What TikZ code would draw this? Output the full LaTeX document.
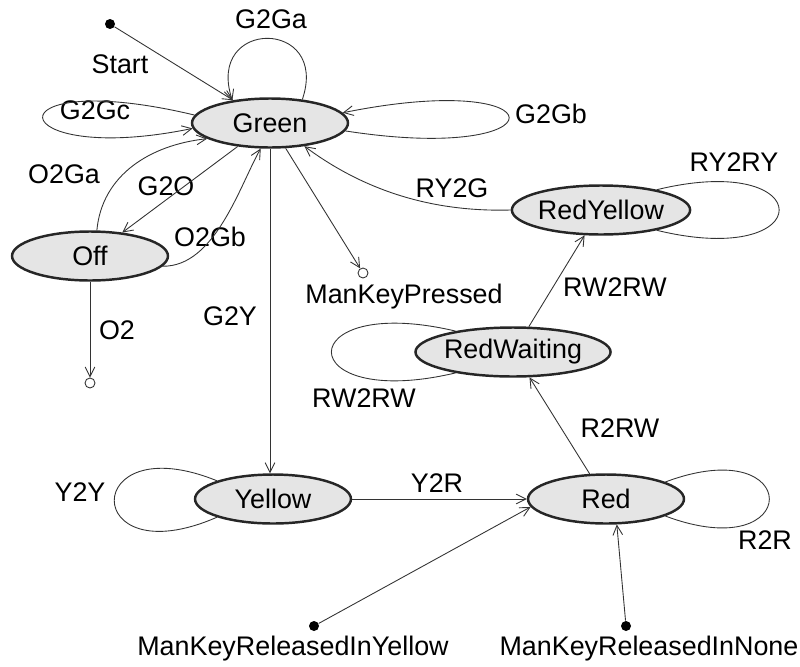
\documentclass[tikz,border=0pt]{standalone}
\usepackage{fontspec}
\setmainfont{Liberation Sans}
\usetikzlibrary{arrows.meta,shapes.geometric,positioning}

\begin{document}
\begin{tikzpicture}[x=0.02cm,y=-0.02cm,
    font=\fontsize{15.3}{18}\selectfont,
    state/.style={ellipse,draw=black!85,line width=1.4pt,fill=black!10,
        minimum width=3.12cm,minimum height=0.98cm,inner sep=0pt},
    trans/.style={draw=black!80,line width=0.5pt,-{Straight Barb[length=5.5pt,width=5.5pt]}},
    loopline/.style={draw=black!80,line width=0.5pt},
    initdot/.style={circle,fill=black,minimum size=0.2cm,inner sep=0pt},
    finaldot/.style={circle,draw=black!80,line width=0.5pt,fill=white,minimum size=0.2cm,inner sep=0pt},
    lbl/.style={inner sep=0pt}]

    \useasboundingbox (0,0) rectangle (800,666);

    % states
    \node[state] (cGreen) at (270,123) {Green};
    \node[state] (cOff) at (90,256) {Off};
    \node[state] (cRedYellow) at (601,210) {RedYellow};
    \node[state] (cRedWaiting) at (513,352) {RedWaiting};
    \node[state] (cYellow) at (273,499) {Yellow};
    \node[state] (cRed) at (606,499) {Red};

    % start and end points
    \node[initdot] (cStartPt) at (110,24) {};
    \node[initdot] (cMKRYPt) at (314,626) {};
    \node[initdot] (cMKRNPt) at (626,626) {};
    \node[finaldot] (cOffEndPt) at (90,383) {};
    \node[finaldot] (cMKPPt) at (363,273) {};

    % labels
    \foreach \n/\x/\y/\t in
    {lStart/120/64/Start,
     lG2Ga/271/19/G2Ga,
     lG2Gc/95/110/G2Gc,
     lG2Gb/551/114/G2Gb,
     lO2Ga/64/174/O2Ga,
     lG2O/166/186/G2O,
     lO2Gb/210/237/O2Gb,
     lO2/117/330/O2,
     lG2Y/230/316/G2Y,
     lMKP/404/297/ManKeyPressed,
     lRY2G/452/188/RY2G,
     lRY2RY/734/162/RY2RY,
     lRW2RWa/615/287/RW2RW,
     lRW2RWb/364/398/RW2RW,
     lR2RW/620/428/R2RW,
     lY2Y/80/492/Y2Y,
     lY2R/437/483/Y2R,
     lR2R/765/540/R2R,
     lMKRY/293/649/ManKeyReleasedInYellow,
     lMKRN/649/649/ManKeyReleasedInNone
    }
    {
        \node[lbl] (\n) at (\x,\y) {\t};
    };

    % transitions
    \draw[trans] (cStartPt) -- (cGreen);
    \draw[trans] (cGreen.36) .. controls (330,18) and (205,18) .. (cGreen.149);
    \draw[trans] (cGreen.174) .. controls (-15,65) and (0,168) .. (cGreen.184);
    \draw[trans] (cGreen.-6) .. controls (564,165) and (564,68) .. (cGreen.8);
    \draw[trans] (cOff.75) .. controls (102,175) and (150,145) .. (cGreen.194);
    \draw[trans] (cGreen.216) -- (cOff.36);
    \draw[trans] (cOff.-8) .. controls (215,267) and (240,185) .. (cGreen.250);
    \draw[trans] (cOff) -- (cOffEndPt);
    \draw[trans] (cGreen.south) -- (cGreen.south |- cYellow.north);
    \draw[trans] (cGreen) -- (cMKPPt);
    \draw[trans] (cRedYellow.west) .. controls (440,212) and (370,195) .. (cGreen.-34);
    \draw[loopline] (cRedYellow.20) .. controls (820,150) and (820,270) .. (cRedYellow.-20);
    \draw[trans] (cRedWaiting.58) -- (cRedYellow.237);
    \draw[loopline] (cRedWaiting.160) .. controls (290,292) and (290,412) .. (cRedWaiting.200);
    \draw[trans] (cRed.123) -- (cRedWaiting.-57);
    \draw[loopline] (cYellow.162) .. controls (80,425) and (80,577) .. (cYellow.198);
    \draw[trans] (cYellow) -- (cRed);
    \draw[loopline] (cRed.16) .. controls (804,430) and (804,568) .. (cRed.-16);
    \draw[trans] (cMKRYPt) -- (cRed.186);
    \draw[trans] (cMKRNPt) -- (cRed.-67);

\end{tikzpicture}
\end{document}
